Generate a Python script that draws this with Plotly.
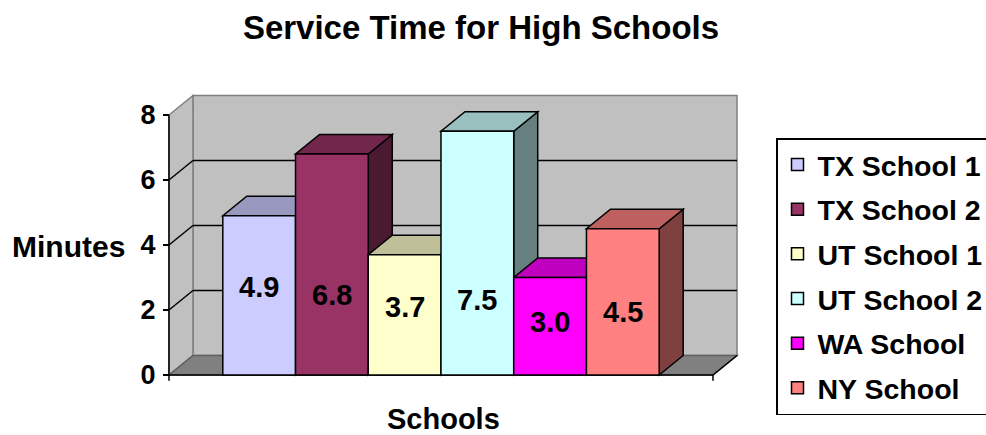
import plotly.graph_objects as go

# ---- data ----
schools = ["TX School 1", "TX School 2", "UT School 1", "UT School 2", "WA School", "NY School"]
minutes = [4.9, 6.8, 3.7, 7.5, 3.0, 4.5]
y_ticks = [0, 2, 4, 6, 8]

# ---- styling ----
front_colors = ["#CCCCFF", "#993366", "#FFFFCC", "#CCFFFF", "#FF00FF", "#FF8080"]
label_heights = [2.71, 2.45, 2.09, 2.31, 1.62, 1.94]   # where each value label sits
FONT = "Liberation Sans, Arial, sans-serif"
DX, DY = 0.33, 0.6          # depth offset of the pseudo-3D box (x units, y units)
X_FRONT_L, X_FRONT_R = -1.24, 6.24
Y_TOP = 8

W, H = 986, 435
ML, MR, MT, MB = 150, 241, 92, 52
X_RANGE = [-1.501, 6.680]
Y_RANGE = [-0.246, 8.708]


def shade(hex_color, k):
    h = hex_color.lstrip("#")
    r, g, b = (int(h[i:i + 2], 16) for i in (0, 2, 4))
    return "#{:02X}{:02X}{:02X}".format(int(r * k), int(g * k), int(b * k))


def poly(points):
    return "M " + " L ".join(f"{x},{y}" for x, y in points) + " Z"


def px_x(px):
    return (px - ML) / (W - ML - MR)


def px_y(py):
    return (H - MB - py) / (H - MT - MB)


shapes = []


def add_path(points, fill, line_color, line_width=1.5):
    shapes.append(dict(type="path", path=poly(points), xref="x", yref="y",
                       fillcolor=fill, line=dict(color=line_color, width=line_width),
                       layer="below"))


def add_line(x0, y0, x1, y1, color, width=1.5):
    shapes.append(dict(type="line", x0=x0, y0=y0, x1=x1, y1=y1, xref="x", yref="y",
                       line=dict(color=color, width=width), layer="below"))


# walls and floor
add_path([(X_FRONT_L + DX, DY), (X_FRONT_R + DX, DY), (X_FRONT_R + DX, Y_TOP + DY),
          (X_FRONT_L + DX, Y_TOP + DY)], "#C0C0C0", "#808080")
add_path([(X_FRONT_L, 0), (X_FRONT_L + DX, DY), (X_FRONT_L + DX, Y_TOP + DY),
          (X_FRONT_L, Y_TOP)], "#C0C0C0", "#808080")
add_path([(X_FRONT_L, 0), (X_FRONT_R, 0), (X_FRONT_R + DX, DY), (X_FRONT_L + DX, DY)],
         "#808080", "#606060")

# gridlines on the side and back walls
for v in y_ticks[1:-1]:
    add_line(X_FRONT_L, v, X_FRONT_L + DX, v + DY, "black")
    add_line(X_FRONT_L + DX, v + DY, X_FRONT_R + DX, v + DY, "black")

# axes
add_line(X_FRONT_L, -0.18, X_FRONT_L, Y_TOP, "black")
add_line(X_FRONT_L, 0, X_FRONT_R, 0, "black")
add_line(X_FRONT_R, -0.18, X_FRONT_R, 0, "black")
add_line(X_FRONT_R, 0, X_FRONT_R + DX, DY, "black")

# side and top faces of each column
for i, (v, c) in enumerate(zip(minutes, front_colors)):
    l, r = i - 0.5, i + 0.5
    add_path([(r, 0), (r + DX, DY), (r + DX, v + DY), (r, v)], shade(c, 0.5), "black")
    add_path([(l, v), (r, v), (r + DX, v + DY), (l + DX, v + DY)], shade(c, 0.75), "black")

fig = go.Figure()
for i, (name, v, c) in enumerate(zip(schools, minutes, front_colors)):
    fig.add_trace(go.Bar(
        x=[i], y=[v], width=1, name=name, legendgroup=name,
        marker=dict(color=c, line=dict(color="black", width=1.5)),
        hoverinfo="skip",
    ))

annotations = []
for i, (v, hy) in enumerate(zip(minutes, label_heights)):
    annotations.append(dict(x=i, y=hy, xref="x", yref="y", text=f"{v:.1f}",
                            showarrow=False,
                            font=dict(family=FONT, size=29, color="black", weight="bold")))

annotations.append(dict(x=px_x(68), y=px_y(246), xref="paper", yref="paper", text="Minutes",
                        showarrow=False, xanchor="center", yanchor="middle",
                        font=dict(family=FONT, size=30, color="black", weight="bold")))
annotations.append(dict(x=px_x(443), y=px_y(419), xref="paper", yref="paper", text="Schools",
                        showarrow=False, xanchor="center", yanchor="middle",
                        font=dict(family=FONT, size=29, color="black", weight="bold")))

fig.update_layout(
    width=W, height=H,
    margin=dict(l=ML, r=MR, t=MT, b=MB, autoexpand=False),
    paper_bgcolor="white", plot_bgcolor="white",
    barmode="overlay",
    title=dict(text="Service Time for High Schools", x=481 / W, y=1 - 27 / H,
               xref="container", yref="container", xanchor="center", yanchor="middle",
               font=dict(family=FONT, size=33, color="black", weight="bold")),
    xaxis=dict(range=X_RANGE, visible=False, fixedrange=True),
    yaxis=dict(range=Y_RANGE, tickvals=y_ticks, showgrid=False, zeroline=False,
               showline=False, ticks="outside", ticklen=6, tickwidth=1.5, tickcolor="black",
               anchor="free", position=px_x(169), ticklabelstandoff=2,
               tickfont=dict(family=FONT, size=27, color="black", weight="bold"),
               fixedrange=True),
    legend=dict(x=px_x(776), y=px_y(138), xanchor="left", yanchor="top",
                bordercolor="black", borderwidth=1.5, bgcolor="white",
                tracegroupgap=4.6, traceorder="grouped",
                font=dict(family=FONT, size=28.5, color="black", weight="bold")),
    showlegend=True,
    shapes=shapes,
    annotations=annotations,
)

fig.write_html("out.html")
